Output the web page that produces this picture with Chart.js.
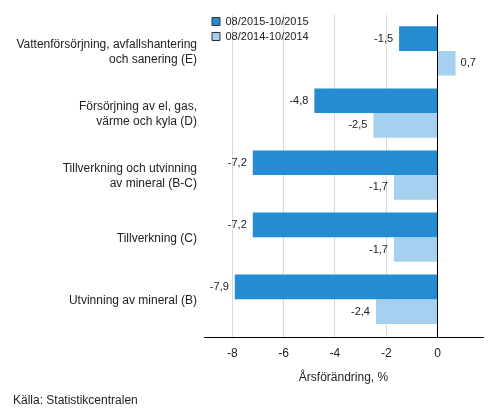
<!DOCTYPE html>
<html>
<head>
<meta charset="utf-8">
<script src="https://cdn.jsdelivr.net/npm/chart.js@4"></script>
<style>
  html, body { margin: 0; padding: 0; background: #fff; }
  #wrap { position: relative; width: 493px; height: 416px; }
  #source { position: absolute; left: 13px; top: 393px; font: 12px "Liberation Sans", Arial, sans-serif; color: #222; }
</style>
</head>
<body>
<div id="wrap">
  <canvas id="chart" width="493" height="416"></canvas>
  <div id="source">Källa: Statistikcentralen</div>
</div>
<script>
// Data
const categories = [
    ["Vattenförsörjning, avfallshantering", "och sanering (E)"],
    ["Försörjning av el, gas,", "värme och kyla (D)"],
    ["Tillverkning och utvinning", "av mineral (B-C)"],
    ["Tillverkning (C)"],
    ["Utvinning av mineral (B)"]
];
const seriesNames = ["08/2015-10/2015", "08/2014-10/2014"];
const values2015 = [-1.5, -4.8, -7.2, -7.2, -7.9];
const values2014 = [0.7, -2.5, -1.7, -1.7, -2.4];
const xTicks = [-8, -6, -4, -2, 0];

Chart.defaults.font.family = '"Liberation Sans", Arial, sans-serif';
Chart.defaults.color = "#222";

const fmt = v => v.toFixed(1).replace(".", ",");

// value labels at the bar ends
const valueLabels = {
    id: "valueLabels",
    afterDatasetsDraw(chart) {
        const ctx = chart.ctx;
        ctx.save();
        ctx.font = '11px "Liberation Sans", Arial, sans-serif';
        ctx.fillStyle = "#222";
        ctx.textBaseline = "middle";
        chart.data.datasets.forEach((ds, i) => {
            chart.getDatasetMeta(i).data.forEach((bar, j) => {
                const v = ds.data[j];
                if (v < 0) {
                    ctx.textAlign = "right";
                    ctx.fillText(fmt(v), bar.x - 6, bar.y);
                } else {
                    ctx.textAlign = "left";
                    ctx.fillText(fmt(v), bar.x + 5, bar.y);
                }
            });
        });
        ctx.restore();
    }
};

// put the legend at the top left corner of the plot
const legendNudge = {
    id: "legendNudge",
    afterLayout(chart) {
        const lg = chart.legend;
        if (!lg) return;
        const h = lg.bottom - lg.top;
        lg.left = chart.chartArea.left + 4;
        lg.top = chart.chartArea.top - 2.5;
        lg.bottom = lg.top + h;
    }
};

new Chart(document.getElementById("chart"), {
    type: "bar",
    data: {
        labels: categories,
        datasets: [{
            label: seriesNames[0],
            data: values2015,
            backgroundColor: "#258cd3"
        }, {
            label: seriesNames[1],
            data: values2014,
            backgroundColor: "#a5d0ef"
        }]
    },
    options: {
        indexAxis: "y",
        responsive: false,
        animation: false,
        layout: { padding: { left: 0, right: 10, top: 12, bottom: 28.5 } },
        datasets: {
            bar: { categoryPercentage: 0.794, barPercentage: 1.0, borderWidth: 0 }
        },
        scales: {
            x: {
                min: -9.1,
                max: 1.77,
                grid: {
                    drawTicks: false,
                    color: ctx => (ctx.tick && ctx.tick.value === 0) ? "#000" : "#d9d9d9"
                },
                border: { display: true, color: "#000", width: 1 },
                afterBuildTicks: scale => {
                    scale.ticks = xTicks.map(v => ({ value: v }));
                },
                ticks: {
                    padding: 9,
                    font: { size: 12 },
                    color: "#222",
                    callback: v => String(v)
                },
                title: {
                    display: true,
                    text: "Årsförändring, %",
                    font: { size: 12 },
                    color: "#222",
                    padding: { top: 0, bottom: 3 }
                }
            },
            y: {
                grid: { display: false, drawTicks: false },
                border: { display: false },
                afterFit: scale => { scale.width = 204; },
                afterBuildTicks: scale => {
                    // a little extra room above and below the groups
                    scale._startValue = -0.5 - 0.087;
                    scale._valueRange = categories.length + 0.087 + 0.119;
                },
                ticks: {
                    padding: 7,
                    labelOffset: 1.5,
                    crossAlign: "near",
                    font: { size: 12, lineHeight: 1.25 },
                    color: "#222"
                }
            }
        },
        plugins: {
            legend: {
                position: "chartArea",
                align: "start",
                labels: {
                    boxWidth: 8,
                    boxHeight: 8,
                    padding: 4,
                    font: { size: 11 },
                    color: "#222",
                    generateLabels: chart =>
                        Chart.defaults.plugins.legend.labels.generateLabels(chart)
                            .map(l => ({ ...l, strokeStyle: "#333", lineWidth: 1 }))
                }
            },
            tooltip: { enabled: false }
        }
    },
    plugins: [valueLabels, legendNudge]
});
</script>
</body>
</html>
